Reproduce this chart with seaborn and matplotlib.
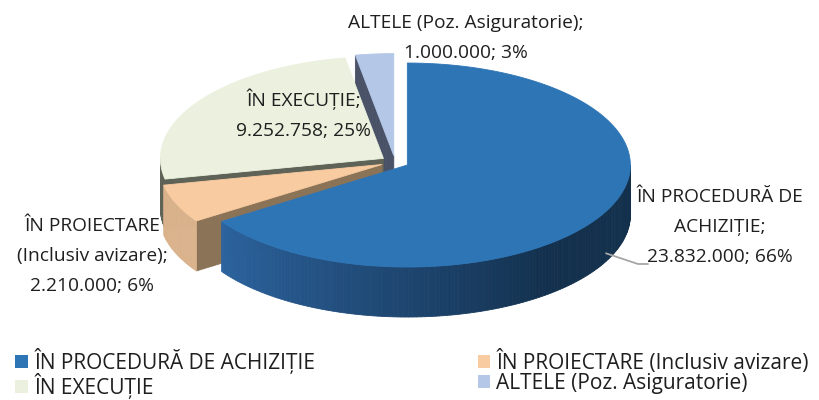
import numpy as np
import matplotlib.pyplot as plt
import seaborn as sns
from matplotlib.patches import Polygon, Patch

# data
names = ['ÎN PROCEDURĂ DE ACHIZIȚIE', 'ÎN PROIECTARE (Inclusiv avizare)',
         'ÎN EXECUȚIE', 'ALTELE (Poz. Asiguratorie)']
label_names = ['ÎN PROCEDURĂ DE\nACHIZIȚIE', 'ÎN PROIECTARE\n(Inclusiv avizare)',
               'ÎN EXECUȚIE', 'ALTELE (Poz. Asiguratorie)']
values = [23832000, 2210000, 9252758, 1000000]

top_colors = ['#2e75b6', '#f8cba0', '#ebf1de', '#b4c7e7']
wall_colors = ['#2c64a0', '#dab38c', '#5f6357', '#4a5268']
radial_colors = ['#24558a', '#8b7358', '#5f6357', '#4a5268']

sns.set_theme(style='white')
plt.rcParams['font.family'] = ['Open Sans', 'DejaVu Sans']

fig = plt.figure(figsize=(8.19, 4), dpi=100)
ax = fig.add_axes([0, 0, 1, 1])
ax.set_xlim(0, 819)
ax.set_ylim(400, 0)
ax.axis('off')

# 3d pie geometry (pixel units)
cx, cy = 395, 162
a, b = 223, 102
depth = 50
explode = 14


def pt(c, phi, r=1.0):
    return c[0] + a * r * np.sin(phi), c[1] - b * r * np.cos(phi)


def mix(c1, c2, t):
    c1 = np.array(plt.matplotlib.colors.to_rgb(c1))
    c2 = np.array(plt.matplotlib.colors.to_rgb(c2))
    return tuple(c1 + (c2 - c1) * t)


total = sum(values)
fracs = [v / total for v in values]
bounds = np.concatenate([[0], np.cumsum(fracs)]) * 2 * np.pi

walls = []
tops = []
centers = []
for i in range(len(values)):
    p0, p1 = bounds[i], bounds[i + 1]
    pm = (p0 + p1) / 2
    c = (cx + explode * np.sin(pm), cy - explode * np.cos(pm) * b / a)
    centers.append(c)

    # outer wall, only front half visible
    lo, hi = max(p0, np.pi / 2), min(p1, 3 * np.pi / 2)
    if hi > lo:
        phis = np.linspace(lo, hi, int(np.degrees(hi - lo)) + 2)
        for j in range(len(phis) - 1):
            q0, q1 = pt(c, phis[j]), pt(c, phis[j + 1])
            verts = [q0, q1, (q1[0], q1[1] + depth), (q0[0], q0[1] + depth)]
            if i == 0:
                t = np.clip((np.degrees(phis[j]) - 140) / 97, 0, 1)
                col = mix('#13304d', wall_colors[0], t)
            else:
                col = wall_colors[i]
            walls.append(((q0[1] + q1[1]) / 2, verts, col))

    # radial walls (only those facing the viewer)
    for phi, sgn in [(p0, -1), (p1, 1)]:
        normal_back = sgn * (-np.sin(phi))
        if normal_back >= 0:
            continue
        rs = np.linspace(0, 1, 12)
        for j in range(len(rs) - 1):
            q0, q1 = pt(c, phi, rs[j]), pt(c, phi, rs[j + 1])
            verts = [q0, q1, (q1[0], q1[1] + depth), (q0[0], q0[1] + depth)]
            walls.append(((q0[1] + q1[1]) / 2, verts, radial_colors[i]))

    arc = np.linspace(p0, p1, 200)
    tops.append([c] + [pt(c, p) for p in arc])

for key, verts, col in sorted(walls, key=lambda w: w[0]):
    ax.add_patch(Polygon(verts, closed=True, facecolor=col, edgecolor=col, lw=0.6))
for i, verts in enumerate(tops):
    ax.add_patch(Polygon(verts, closed=True, facecolor=top_colors[i],
                         edgecolor=top_colors[i], lw=0.6))

# data labels
label_pos = [(720, 227), (92, 256), (304, 114), (466, 38)]
for i in range(len(values)):
    pct = round(fracs[i] * 100)
    val = f'{values[i]:,}'.replace(',', '.')
    ax.text(label_pos[i][0], label_pos[i][1], f'{label_names[i]};\n{val}; {pct}%',
            ha='center', va='center', fontsize=13.8, color='#1f1f1f', linespacing=1.85)

# leader line for the big slice
lx, ly = pt(centers[0], np.radians(117))
ax.plot([lx, 638, 648], [ly + 42, 264, 264], color='#a6a6a6', lw=1.3)

handles = [Patch(facecolor=top_colors[k], edgecolor='none') for k in [0, 2, 1, 3]]
leg_labels = [names[k] for k in [0, 2, 1, 3]]
ax.legend(handles, leg_labels, ncol=2, loc='upper left', bbox_to_anchor=(0.006, 0.157),
          frameon=False, fontsize=15.0, handlelength=0.6, handleheight=0.6,
          handletextpad=0.3, columnspacing=7.8, labelspacing=-0.05, borderpad=0,
          labelcolor='#1f1f1f')

fig.savefig('out.png', dpi=100)
